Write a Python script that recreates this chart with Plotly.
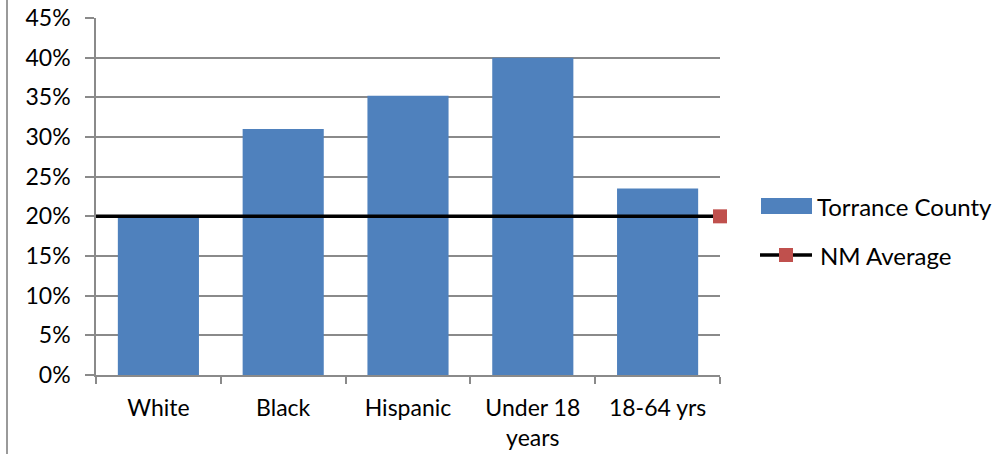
import plotly.graph_objects as go

# Share of population by group, Torrance County vs. New Mexico average
categories = ["White", "Black", "Hispanic", "Under 18<br>years", "18-64 yrs"]
torrance_pct = [19.9, 31.0, 35.2, 40.0, 23.5]
nm_average_pct = 20.0
y_ticks = [0, 5, 10, 15, 20, 25, 30, 35, 40, 45]

positions = list(range(len(categories)))
x_left = positions[0] - 0.5
x_right = positions[-1] + 0.5

FONT = "Lato, 'Open Sans', sans-serif"
GRID = "#8a8a8a"
BAR_COLOR = "#4F81BD"
MARK_COLOR = "#C0504D"

# plot area in pixels, used to place the hand-drawn legend in paper units
PLOT_L, PLOT_R, PLOT_T, PLOT_B = 96, 720, 18, 375


def px(x):
    return (x - PLOT_L) / (PLOT_R - PLOT_L)


def py(y):
    return (PLOT_B - y) / (PLOT_B - PLOT_T)


fig = go.Figure()

fig.add_trace(go.Bar(
    x=positions,
    y=torrance_pct,
    name="Torrance County",
    marker=dict(color=BAR_COLOR, line=dict(width=0)),
    width=0.65,
    showlegend=False,
))

# average line runs across the full plot width, marker at the right edge
fig.add_trace(go.Scatter(
    x=[x_left, x_right],
    y=[nm_average_pct, nm_average_pct],
    mode="lines",
    line=dict(color="black", width=3.5),
    showlegend=False,
    hoverinfo="skip",
))
fig.add_trace(go.Scatter(
    x=[x_right],
    y=[nm_average_pct],
    mode="markers",
    name="NM Average",
    marker=dict(symbol="square", size=14, color=MARK_COLOR),
    cliponaxis=False,
    showlegend=False,
))

legend_shapes = [
    # Torrance County swatch
    dict(type="rect", xref="paper", yref="paper",
         x0=px(761), x1=px(812), y0=py(214), y1=py(198),
         fillcolor=BAR_COLOR, line=dict(width=0)),
    # NM Average line + marker
    dict(type="line", xref="paper", yref="paper",
         x0=px(760), x1=px(812), y0=py(255), y1=py(255),
         line=dict(color="black", width=3.5)),
    dict(type="rect", xref="paper", yref="paper",
         x0=px(779), x1=px(793), y0=py(262), y1=py(248),
         fillcolor=MARK_COLOR, line=dict(width=0)),
    # outer chart border on the left
    dict(type="line", xref="paper", yref="paper",
         x0=px(7), x1=px(7), y0=py(460), y1=py(-5),
         line=dict(color="#9a9a9a", width=2)),
]

legend_labels = [
    dict(text="Torrance County", x=px(815), y=py(206)),
    dict(text="NM Average", x=px(818), y=py(255)),
]

fig.update_layout(
    width=1001,
    height=454,
    margin=dict(l=PLOT_L, r=1001 - PLOT_R, t=PLOT_T, b=454 - PLOT_B),
    paper_bgcolor="white",
    plot_bgcolor="white",
    font=dict(family=FONT, size=23, color="black"),
    bargap=0.35,
    showlegend=False,
    shapes=legend_shapes,
    annotations=[
        dict(text=a["text"], x=a["x"], y=a["y"], xref="paper", yref="paper",
             xanchor="left", yanchor="middle", showarrow=False,
             font=dict(family=FONT, size=24, color="black"))
        for a in legend_labels
    ],
)

fig.update_xaxes(
    range=[x_left, x_right],
    tickvals=positions,
    ticktext=categories,
    ticks="",
    ticklabelstandoff=12,
    automargin=False,
    showgrid=False,
    showline=True,
    linecolor=GRID,
    linewidth=1.5,
    zeroline=False,
    tickfont=dict(family=FONT, size=23),
    minor=dict(
        tickvals=[p - 0.5 for p in positions] + [x_right],
        ticks="outside", ticklen=7, tickcolor=GRID, tickwidth=1.5,
        showgrid=False,
    ),
)

fig.update_yaxes(
    range=[0, 45],
    tickvals=y_ticks,
    ticktext=[f"{v}%" for v in y_ticks],
    ticks="outside",
    ticklen=9,
    tickcolor=GRID,
    tickwidth=1.5,
    ticklabelstandoff=10,
    automargin=False,
    showgrid=True,
    gridcolor=GRID,
    gridwidth=1.5,
    showline=True,
    linecolor=GRID,
    linewidth=1.5,
    zeroline=False,
    tickfont=dict(family=FONT, size=23),
)

fig.write_html("out.html")
